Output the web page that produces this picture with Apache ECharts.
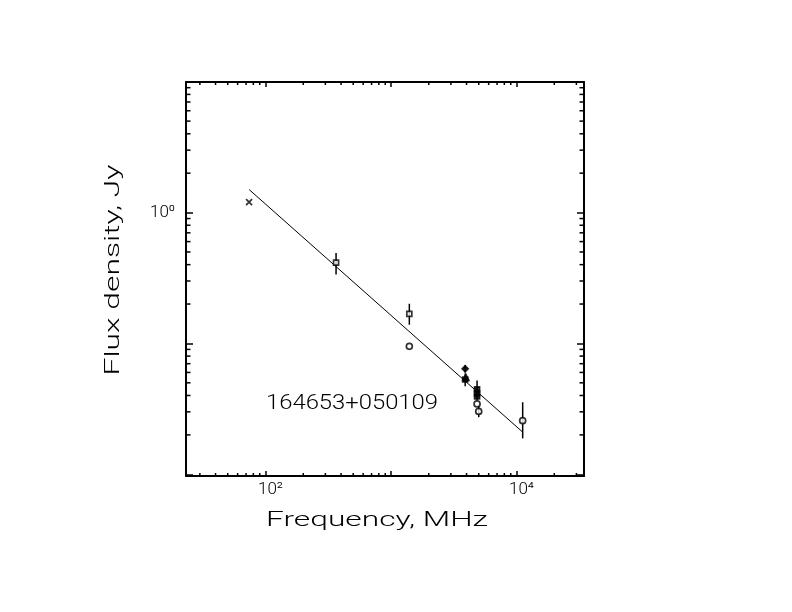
<!DOCTYPE html>
<html>
<head>
<meta charset="utf-8">
<title>164653+050109</title>
<script src="https://cdn.jsdelivr.net/npm/echarts@6/dist/echarts.min.js"></script>
<style>
html, body { margin: 0; padding: 0; background: #fff; }
#chart { width: 792px; height: 612px; }
</style>
</head>
<body>
<div id="chart"></div>
<script>

// =====================================================
// DATA  (frequency MHz, flux density Jy)
// =====================================================

const sourceName = "164653+050109";

const crossPts        = [[74, 1.20]];
const openSquarePts   = [[365, 0.414], [1400, 0.168]];
const openCirclePts   = [[1400, 0.095], [4850, 0.0345], [5000, 0.0302], [11200, 0.0257]];
const filledDiamondPts  = [[3900, 0.064]];
const filledSquarePts   = [[3900, 0.053], [4850, 0.0445], [4850, 0.0415], [4850, 0.0393]];
const filledTrianglePts = [[3950, 0.055]];

// [freq, low, high]
const errorBars = [
    [365, 0.337, 0.490],
    [1400, 0.139, 0.201],
    [3900, 0.0600, 0.0685],
    [3900, 0.047, 0.059],
    [4850, 0.0367, 0.052],
    [5000, 0.0273, 0.033],
    [11200, 0.0188, 0.0355]
];

// fitted spectrum, end points
const fitLine = [[74, 1.50], [11200, 0.0210]];

// axis ranges and ticks
const xMin = 23.26, xMax = 34500;
const yMin = 0.0097, yMax = 9.95;

const xTickValues = [100, 10000];
const xTickLabels = ["10\u00b2", "10\u2074"];
const yTickValues = [1];
const yTickLabels = ["10\u2070"];

const xMinorTicks = [30, 40, 50, 60, 70, 80, 90, 200, 300, 400, 500, 600, 700, 800, 900,
    2000, 3000, 4000, 5000, 6000, 7000, 8000, 9000, 20000, 30000];
const yMinorTicks = [0.02, 0.03, 0.04, 0.05, 0.06, 0.07, 0.08, 0.09,
    0.2, 0.3, 0.4, 0.5, 0.6, 0.7, 0.8, 0.9, 2, 3, 4, 5, 6, 7, 8, 9];


// =====================================================
// HELPERS
// =====================================================

const FONT = "Roboto";
const INK = "#000";

// stretch factor so a text reaches the width of the plotted stroke font
const measureCtx = document.createElement("canvas").getContext("2d");
function stretch(text, font, width) {
    measureCtx.font = font;
    const w = measureCtx.measureText(text).width;
    return w > 0 ? width / w : 1;
}

function tickLabel(values, labels) {
    return function (v) {
        for (let i = 0; i < values.length; i++) {
            if (Math.abs(Math.log10(v) - Math.log10(values[i])) < 0.01) return labels[i];
        }
        return "";
    };
}

function minorTickSeries(ticks, isX, len) {
    return {
        type: "custom",
        silent: true,
        z: 5,
        data: ticks.map(v => isX ? [v, yMin] : [xMin, v]),
        renderItem: function (params, api) {
            const p = api.coord([api.value(0), api.value(1)]);
            const cs = params.coordSys;
            const st = { stroke: INK, lineWidth: 1.5 };
            if (isX) {
                const b = cs.y + cs.height;
                return { type: "group", children: [
                    { type: "line", shape: { x1: p[0], y1: b, x2: p[0], y2: b - len }, style: st },
                    { type: "line", shape: { x1: p[0], y1: cs.y, x2: p[0], y2: cs.y + len }, style: st }
                ]};
            }
            const r = cs.x + cs.width;
            return { type: "group", children: [
                { type: "line", shape: { x1: cs.x, y1: p[1], x2: cs.x + len, y2: p[1] }, style: st },
                { type: "line", shape: { x1: r, y1: p[1], x2: r - len, y2: p[1] }, style: st }
            ]};
        }
    };
}

function markers(data, symbol, filled, size) {
    return {
        type: "scatter",
        silent: true,
        z: 10,
        data: data,
        symbol: symbol,
        symbolSize: size,
        itemStyle: {
            color: filled ? INK : "#fff",
            borderColor: INK,
            borderWidth: 1.7
        }
    };
}

function axisBase(pos, tickLen, labels) {
    return {
        type: "log",
        logBase: 10,
        position: pos,
        axisLine: { show: true, onZero: false, lineStyle: { color: INK, width: 2 } },
        axisTick: { show: true, inside: true, length: tickLen, lineStyle: { color: INK, width: 1.5 } },
        splitLine: { show: false },
        minorTick: { show: false },
        axisLabel: labels ? Object.assign({ show: true, interval: 0 }, labels) : { show: false }
    };
}

function titleText(text, x, y, size, width, rotation) {
    const font = "300 " + size + "px " + FONT;
    return {
        type: "text", x: x, y: y, rotation: rotation || 0,
        scaleX: stretch(text, font, width), silent: true,
        style: { text: text, fill: INK, font: font, align: "center", verticalAlign: "middle" }
    };
}


// =====================================================
// CHART
// =====================================================

const chart = echarts.init(document.getElementById("chart"), null, { renderer: "canvas" });

const xBottom = Object.assign(axisBase("bottom", 5, {
    color: INK, fontFamily: FONT, fontWeight: 300, fontSize: 17, margin: 5,
    padding: [0, 0, 0, 10],
    formatter: tickLabel(xTickValues, xTickLabels)
}), { min: xMin, max: xMax });

const xTop = Object.assign(axisBase("top", 5, null), { min: xMin, max: xMax });

const yLeft = Object.assign(axisBase("left", 7, {
    color: INK, fontFamily: FONT, fontWeight: 300, fontSize: 17, margin: 11,
    formatter: tickLabel(yTickValues, yTickLabels)
}), { min: yMin, max: yMax });

const yRight = Object.assign(axisBase("right", 7, null), { min: yMin, max: yMax });

chart.setOption({
    backgroundColor: "#fff",
    animation: false,
    grid: { left: 186, top: 82, width: 398, height: 394, containLabel: false },
    xAxis: [xBottom, xTop],
    yAxis: [yLeft, yRight],

    graphic: [
        titleText("Frequency, MHz", 377, 521, 20, 222),
        titleText("Flux density, Jy", 114, 270, 21, 211, Math.PI / 2),
        titleText(sourceName, 352, 404, 20, 172)
    ],

    series: [
        minorTickSeries(xMinorTicks, true, 3),
        minorTickSeries(yMinorTicks, false, 4.5),

        {
            type: "line",
            silent: true,
            data: fitLine,
            symbol: "none",
            z: 3,
            lineStyle: { color: INK, width: 1 }
        },

        {
            type: "custom",
            silent: true,
            z: 4,
            data: errorBars,
            encode: { x: 0, y: [1, 2] },
            renderItem: function (params, api) {
                const lo = api.coord([api.value(0), api.value(1)]);
                const hi = api.coord([api.value(0), api.value(2)]);
                return {
                    type: "line",
                    shape: { x1: lo[0], y1: lo[1], x2: hi[0], y2: hi[1] },
                    style: { stroke: INK, lineWidth: 1.5 }
                };
            }
        },

        markers(crossPts, "path://M0,0L10,10M10,0L0,10", false, 6),
        markers(openSquarePts, "rect", false, 5),
        markers(openCirclePts, "circle", false, 6),
        markers(filledDiamondPts, "diamond", true, 6),
        markers(filledSquarePts, "rect", true, 5),
        markers(filledTrianglePts, "triangle", true, 6)
    ]
});

</script>
</body>
</html>
